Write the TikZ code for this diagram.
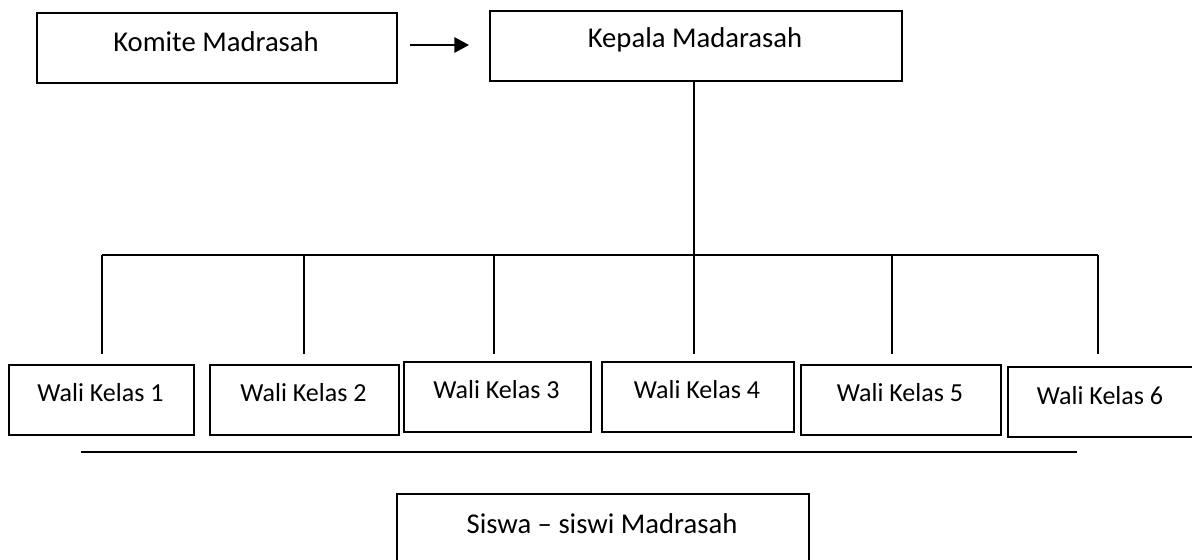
\documentclass[tikz,border=0pt]{standalone}
\usepackage{fontspec}
\setmainfont{Carlito}
\usetikzlibrary{arrows.meta}
\begin{document}
\begin{tikzpicture}[x=0.75pt,y=-0.75pt,
  box/.style={draw=black,line width=1.5pt,rectangle,inner sep=0pt,anchor=north west},
  wh/.style 2 args={minimum width=#1*0.75pt,minimum height=#2*0.75pt},
  txt/.style={font=\fontsize{19.5}{23}\selectfont,anchor=base,inner sep=0pt},
  bigtxt/.style={font=\fontsize{21.5}{25}\selectfont,anchor=base,inner sep=0pt},
  conn/.style={draw=black,line width=1.5pt},
  arr/.style={conn,-{Triangle[length=11pt,width=11.5pt]}}]
\clip (0,0) rectangle (1192,560);
\fill[white] (0,0) rectangle (1192,560);
% boxes
\node[box,wh={360}{70}] (komite) at (36,12) {};
\node[box,wh={412}{70}] (kepala) at (489,10) {};
\node[box,wh={185}{70}] (wali1) at (8,364) {};
\node[box,wh={189}{70}] (wali2) at (209,364) {};
\node[box,wh={187}{70}] (wali3) at (403,361) {};
\node[box,wh={192}{70}] (wali4) at (601,361) {};
\node[box,wh={200}{70}] (wali5) at (800,364) {};
\node[box,wh={190}{70}] (wali6) at (1007,366) {};
\node[box,wh={412}{70}] (siswa) at (396,493) {};
% texts
\node[bigtxt] (komiteT) at (216,52) {Komite Madrasah};
\node[bigtxt] (kepalaT) at (695,48) {Kepala Madarasah};
\node[txt] (w1T) at (100.5,401) {Wali Kelas 1};
\node[txt] (w2T) at (303.5,401) {Wali Kelas 2};
\node[txt] (w3T) at (496.5,398) {Wali Kelas 3};
\node[txt] (w4T) at (697,398) {Wali Kelas 4};
\node[txt] (w5T) at (900,401) {Wali Kelas 5};
\node[txt] (w6T) at (1100,404) {Wali Kelas 6};
\node[bigtxt] (siswaT) at (602,533) {Siswa – siswi Madrasah};
% arrow
\draw[arr,shorten <=9pt,shorten >=15pt] ([yshift=2.25pt]komite.east) -- ([yshift=2.25pt]komite.east -| kepala.west);
% tree
\coordinate (d1) at (102,255);
\coordinate (d2) at (304,255);
\coordinate (d3) at (494,255);
\coordinate (d4) at (694,255);
\coordinate (d5) at (892,255);
\coordinate (d6) at (1098,255);
\coordinate (dropend) at (0,354);
\draw[conn] (kepala.south -| d4) -- (d4);
\draw[conn] (d1) -- (d6);
\foreach \i in {1,...,6} {\draw[conn] (d\i) -- (d\i |- dropend);}
% separator line
\coordinate (l1) at (81,452);
\coordinate (l2) at (1077,452);
\draw[conn] (l1) -- (l2);
\end{tikzpicture}
\end{document}
